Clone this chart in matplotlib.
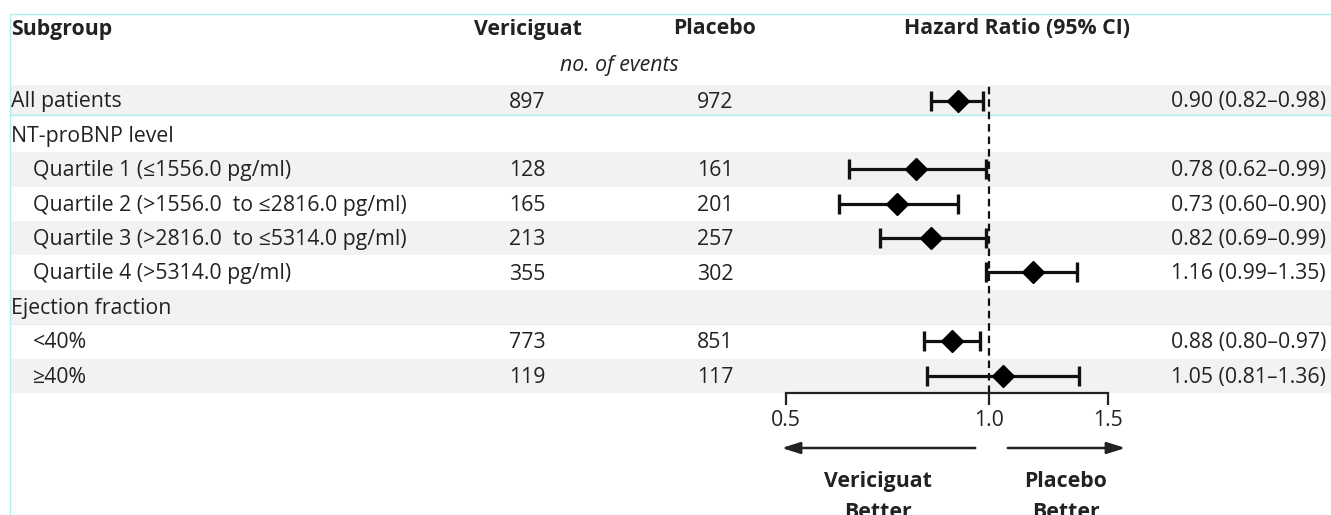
import matplotlib
matplotlib.use("Agg")
import matplotlib.pyplot as plt
import numpy as np

plt.rcParams["font.family"] = ["Open Sans", "DejaVu Sans"]

# subgroup rows, top to bottom; header rows have no estimates
labels = [
    "All patients",
    "NT-proBNP level",
    "Quartile 1 (\u22641556.0 pg/ml)",
    "Quartile 2 (>1556.0  to \u22642816.0 pg/ml)",
    "Quartile 3 (>2816.0  to \u22645314.0 pg/ml)",
    "Quartile 4 (>5314.0 pg/ml)",
    "Ejection fraction",
    "<40%",
    "\u226540%",
]
indented = [False, False, True, True, True, True, False, True, True]
events_vericiguat = ["897", "", "128", "165", "213", "355", "", "773", "119"]
events_placebo = ["972", "", "161", "201", "257", "302", "", "851", "117"]
hr = [0.90, np.nan, 0.78, 0.73, 0.82, 1.16, np.nan, 0.88, 1.05]
ci_low = [0.82, np.nan, 0.62, 0.60, 0.69, 0.99, np.nan, 0.80, 0.81]
ci_high = [0.98, np.nan, 0.99, 0.90, 0.99, 1.35, np.nan, 0.97, 1.36]
ticks = [0.5, 1.0, 1.5]

W, H = 1331, 515
fig = plt.figure(figsize=(W / 100, H / 100), dpi=100)

# background axes in pixel units for the table part
bg = fig.add_axes([0, 0, 1, 1])
bg.set_xlim(0, W)
bg.set_ylim(H, 0)
bg.axis("off")

row0, pitch = 100.5, 34.4
rows = row0 + pitch * np.arange(len(labels))

for i, y in enumerate(rows):
    if i % 2 == 0:
        top = 85 if i == 0 else y - pitch / 2
        bot = 115 if i == 0 else y + pitch / 2
        bg.axhspan(top, bot, xmin=10 / W, xmax=1, color="#f2f2f2", lw=0, zorder=0)

# thin guide lines
guide = "#aef0f0"
bg.plot([10, W], [14, 14], color=guide, lw=1, zorder=1)
bg.plot([10, 10], [14, H], color=guide, lw=1, zorder=1)
bg.plot([10, W], [115, 115], color=guide, lw=1, zorder=1)
bg.plot([10, W], [rows[6] + pitch / 2, rows[6] + pitch / 2], color="#e6e8f0", lw=0.8, zorder=1)

txt = "#222222"
fs = 15.3
# column headers
bg.text(11, 29, "Subgroup", fontsize=fs, fontweight="bold", color=txt, va="center")
bg.text(528, 29, "Vericiguat", fontsize=fs, fontweight="bold", color=txt, va="center", ha="center")
bg.text(715, 29, "Placebo", fontsize=fs, fontweight="bold", color=txt, va="center", ha="center")
bg.text(1017, 29, "Hazard Ratio (95% CI)", fontsize=fs, fontweight="bold", color=txt, va="center", ha="center")
bg.text(619, 65, "no. of events", fontsize=fs, fontstyle="italic", color=txt, va="center", ha="center")

for i, y in enumerate(rows):
    x0 = 33 if indented[i] else 11
    bg.text(x0, y + 1.5, labels[i], fontsize=fs, color=txt, va="center")
    bg.text(527, y + 1.5, events_vericiguat[i], fontsize=fs, color=txt, va="center", ha="center")
    bg.text(715, y + 1.5, events_placebo[i], fontsize=fs, color=txt, va="center", ha="center")
    if not np.isnan(hr[i]):
        bg.text(1326, y + 1.5, f"{hr[i]:.2f} ({ci_low[i]:.2f}\u2013{ci_high[i]:.2f})",
                fontsize=fs, color=txt, va="center", ha="right")

# forest panel on a log axis
top_px = rows[0] - pitch / 2
bot_px = rows[-1] + pitch / 2
x_left, x_right = 786, 1108
fx = fig.add_axes([x_left / W, (H - bot_px) / H, (x_right - x_left) / W, (bot_px - top_px) / H])
fx.patch.set_alpha(0)
fx.set_xscale("log")
fx.set_xlim(0.5, 1.5)
fx.set_ylim(len(labels) - 0.5, -0.5)

fx.axvline(1.0, color="#111111", lw=1.6, ls=(0, (3.4, 2.2)), zorder=2)

hr_a = np.array(hr)
lo_a = np.array(ci_low)
hi_a = np.array(ci_high)
idx = np.arange(len(labels))
ok = ~np.isnan(hr_a)
fx.errorbar(hr_a[ok], idx[ok], xerr=[hr_a[ok] - lo_a[ok], hi_a[ok] - hr_a[ok]],
            fmt="none", ecolor="#111111", elinewidth=2.3, capsize=7, capthick=2.4, zorder=3)
fx.plot(hr_a[ok], idx[ok], "D", color="black", ms=11.5, zorder=4)

for s in ["top", "left", "right"]:
    fx.spines[s].set_visible(False)
fx.spines["bottom"].set_linewidth(1.6)
fx.spines["bottom"].set_color("#222222")
fx.set_yticks([])
fx.set_xticks(ticks)
fx.set_xticklabels([f"{t:.1f}" for t in ticks])
fx.xaxis.set_minor_locator(matplotlib.ticker.NullLocator())
fx.tick_params(axis="x", direction="out", length=8.5, width=1.6, color="#222222",
               labelsize=fs, labelcolor=txt, pad=4)

# direction arrows and captions
arrow = dict(arrowstyle="-|>,head_length=1.1,head_width=0.35", color="#222222", lw=1.8)
bg.annotate("", xy=(779, 448), xytext=(978, 448), arrowprops=arrow)
bg.annotate("", xy=(1128, 448), xytext=(1005, 448), arrowprops=arrow)
bg.text(878, 471, "Vericiguat\nBetter", fontsize=fs, fontweight="bold", color=txt,
        ha="center", va="top", linespacing=1.6)
bg.text(1066, 471, "Placebo\nBetter", fontsize=fs, fontweight="bold", color=txt,
        ha="center", va="top", linespacing=1.6)

fig.savefig("out.png", dpi=100)
